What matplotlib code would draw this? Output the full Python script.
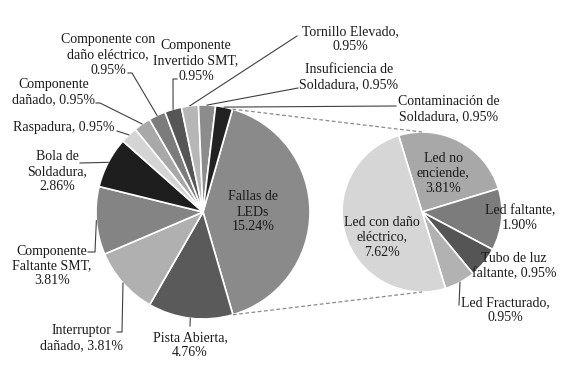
import numpy as np
import matplotlib
matplotlib.use('Agg')
from matplotlib import pyplot as plt

# main pie (Fallas de LEDs is split out into the second pie)
main_labels = ['Fallas de\nLEDs\n15.24%', 'Pista Abierta,\n4.76%', 'Interruptor\ndañado, 3.81%',
               'Componente\nFaltante SMT,\n3.81%', 'Bola de\nSoldadura,\n2.86%', 'Raspadura, 0.95%',
               'Componente\ndañado, 0.95%', 'Componente con\ndaño eléctrico,\n0.95%',
               'Componente\nInvertido SMT,\n0.95%', 'Tornillo Elevado,\n0.95%',
               'Insuficiencia de\nSoldadura, 0.95%', 'Contaminación de\nSoldadura, 0.95%']
main_values = [15.24, 4.76, 3.81, 3.81, 2.86, 0.95, 0.95, 0.95, 0.95, 0.95, 0.95, 0.95]
main_colors = ['#8a8a8a', '#5a5a5a', '#b0b0b0', '#848484', '#1e1e1e', '#d4d4d4',
               '#a8a8a8', '#7c7c7c', '#565656', '#b6b6b6', '#8c8c8c', '#222222']

sub_labels = ['Led no\nenciende,\n3.81%', 'Led faltante,\n1.90%', 'Tubo de luz\nfaltante, 0.95%',
              'Led Fracturado,\n0.95%', 'Led con daño\neléctrico,\n7.62%']
sub_values = [3.81, 1.90, 0.95, 0.95, 7.62]
sub_colors = ['#a8a8a8', '#7c7c7c', '#555555', '#b2b2b2', '#d6d6d6']

W, H = 584, 383

# label centres (pixels, y from top) and leader elbows (None = no leader)
main_pos = [(253, 212), (190, 345), (81, 338), (52, 266), (57, 172), (64, 128),
            (54, 92), (108, 55), (196, 61), (350, 39), (349, 77), (449, 109)]
main_lead = [None, [(190, 326)], [(117, 332), (122, 332)], [(88, 252), (95, 252)],
             [(80, 163)], [(117, 131)], [(96, 103), (100, 103)], [(128, 73), (132, 73)],
             [(177, 79), (173, 79)], [(297, 36)], [(298, 88)], [(396, 106)]]
sub_pos = [(443, 173), (520, 218), (514, 266), (505, 310), (382, 237)]
sub_lead = [None, None, None, [(459, 305)], None]

fig = plt.figure(figsize=(W / 100, H / 100), dpi=100)
ax = fig.add_axes([0, 0, 1, 1])

wedge_kw = dict(edgecolor='white', linewidth=1.2)
main_c = (203, H - 212)
sub_c = (422, H - 212)
w_main, _ = ax.pie(main_values, colors=main_colors, startangle=74, counterclock=False,
                   center=main_c, radius=107, wedgeprops=wedge_kw)
w_sub, _ = ax.pie(sub_values, colors=sub_colors, startangle=107, counterclock=False,
                  center=sub_c, radius=80, wedgeprops=wedge_kw)


def edge(w, ang=None):
    a = np.deg2rad((w.theta1 + w.theta2) / 2 if ang is None else ang)
    return w.center[0] + w.r * np.cos(a), w.center[1] + w.r * np.sin(a)


txt = dict(family='Liberation Serif', fontsize=10, color='#1a1a1a', ha='center', va='center')

for w, lab, pos, lead in zip(w_main + w_sub, main_labels + sub_labels,
                             main_pos + sub_pos, main_lead + sub_lead):
    ax.text(pos[0], H - pos[1], lab, **txt)
    if lead:
        pts = [(x, H - y) for x, y in lead] + [edge(w)]
        ax.plot([p[0] for p in pts], [p[1] for p in pts], color='#404040', lw=0.8)

# connector lines between split slice and second pie
big = w_main[0]
top = edge(big, big.theta2)
bot = edge(big, big.theta1)
ax.plot([top[0], sub_c[0]], [top[1], sub_c[1] + 80], color='#8a8a8a', lw=0.9, ls=(0, (3, 2)))
ax.plot([bot[0], sub_c[0]], [bot[1], sub_c[1] - 80], color='#8a8a8a', lw=0.9, ls=(0, (3, 2)))

ax.set_xlim(0, W)
ax.set_ylim(0, H)
ax.set_aspect('equal')
ax.axis('off')

plt.savefig('out.png', dpi=100, facecolor='white')
plt.close()
